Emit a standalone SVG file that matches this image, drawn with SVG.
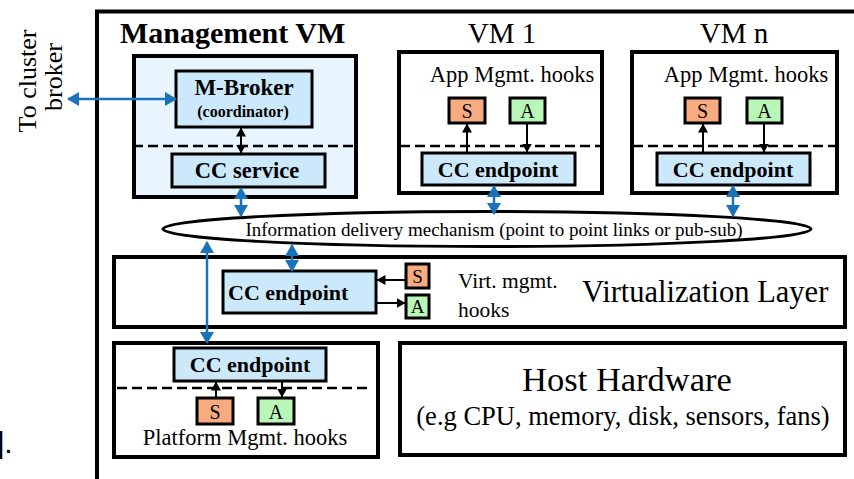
<svg xmlns="http://www.w3.org/2000/svg" width="854" height="479" viewBox="0 0 854 479">
<style>
.serif{font-family:"Liberation Serif","Times New Roman",serif;fill:#000}
.b{font-weight:bold}
.box{stroke:#000;stroke-width:4;fill:#fff}
.inner{stroke:#000;stroke-width:3;fill:#cce9fb}
.dash{stroke:#000;stroke-width:2.5;stroke-dasharray:10 5;fill:none}
.blue{stroke:#1a72b8;stroke-width:2.5;fill:none;marker-start:url(#bh);marker-end:url(#bh)}
.blk{stroke:#000;stroke-width:2;fill:none;marker-end:url(#kh)}
.blk2{stroke:#000;stroke-width:2;fill:none;marker-start:url(#kh);marker-end:url(#kh)}
.S{fill:#f9ab80;stroke:#000;stroke-width:3}
.A{fill:#b9f7b9;stroke:#000;stroke-width:3}
</style>
<defs>
<marker id="bh" viewBox="0 0 12 14" refX="11" refY="7" markerWidth="12" markerHeight="14" markerUnits="userSpaceOnUse" orient="auto-start-reverse"><path d="M0,0 L12,7 L0,14 Z" fill="#1a72b8"/></marker>
<marker id="kh" viewBox="0 0 9 10" refX="8.5" refY="5" markerWidth="9" markerHeight="10" markerUnits="userSpaceOnUse" orient="auto-start-reverse"><path d="M0,0 L9,5 L0,10 Z" fill="#000"/></marker>
</defs>
<rect width="854" height="479" fill="#fff"/>
<text class="" x="-4" y="453" font-family="Liberation Sans, Arial, sans-serif" font-size="30">].</text>
<g id="frame">
<path d="M97,479 L97,11.5 L860,11.5" stroke="#000" stroke-width="4" fill="none"/>
</g>
<g id="cluster-label">
<text class="serif" font-size="26" text-anchor="middle" transform="translate(36,81) rotate(-90)">To cluster</text>
<text class="serif" font-size="26" text-anchor="middle" transform="translate(62,77) rotate(-90)">broker</text>
</g>
<g id="mgmt-vm">
<text class="serif b" x="120" y="43" font-size="30">Management VM</text>
<rect x="134" y="56" width="222" height="141" fill="#e8f5fe" stroke="#000" stroke-width="4"/>
<line class="dash" x1="133" y1="146" x2="358" y2="146"/>
</g>
<g id="m-broker">
<rect class="inner" x="176" y="71" width="136" height="56"/>
<text class="serif b" x="244" y="95" font-size="23" text-anchor="middle">M-Broker</text>
<text class="serif b" x="243" y="117" font-size="16" text-anchor="middle">(coordinator)</text>
</g>
<g id="cc-service">
<rect class="inner" x="172" y="154" width="153" height="33"/>
<text class="serif b" x="247" y="178" font-size="22.5" text-anchor="middle">CC service</text>
</g>
<g id="vm1">
<text class="serif" x="502" y="43" font-size="29" text-anchor="middle">VM 1</text>
<rect class="box" x="399" y="52" width="203" height="141"/>
<text class="serif" x="512" y="82" font-size="22.5" text-anchor="middle">App Mgmt. hooks</text>
<line class="dash" x1="400" y1="146" x2="603" y2="146"/>
<rect class="S" x="449" y="98" width="36" height="25"/>
<text class="serif" x="467" y="118" font-size="20" text-anchor="middle">S</text>
<rect class="A" x="510" y="98" width="35" height="25"/>
<text class="serif" x="527.5" y="118" font-size="20" text-anchor="middle">A</text>
<rect class="inner" x="422" y="153" width="153" height="32"/>
<text class="serif b" x="498" y="177" font-size="22" text-anchor="middle">CC endpoint</text>
</g>
<g id="vmn">
<text class="serif" x="734" y="43" font-size="29" text-anchor="middle">VM n</text>
<rect class="box" x="632" y="52" width="205" height="141"/>
<text class="serif" x="746" y="82" font-size="22.5" text-anchor="middle">App Mgmt. hooks</text>
<line class="dash" x1="633" y1="146" x2="838" y2="146"/>
<rect class="S" x="685" y="98" width="35" height="25"/>
<text class="serif" x="702.5" y="118" font-size="20" text-anchor="middle">S</text>
<rect class="A" x="747" y="98" width="35" height="25"/>
<text class="serif" x="764.5" y="118" font-size="20" text-anchor="middle">A</text>
<rect class="inner" x="657" y="153" width="153" height="32"/>
<text class="serif b" x="733" y="177" font-size="22" text-anchor="middle">CC endpoint</text>
</g>
<g id="info-delivery">
<ellipse cx="487" cy="229" rx="324" ry="17.5" fill="#fff" stroke="#000" stroke-width="3"/>
<text class="serif" x="494" y="236" font-size="19" text-anchor="middle">Information delivery mechanism (point to point links or pub-sub)</text>
</g>
<g id="virt-layer">
<rect class="box" x="114" y="257" width="731" height="70"/>
<rect class="inner" x="223" y="271" width="153" height="42"/>
<text class="serif b" x="228" y="300" font-size="22">CC endpoint</text>
<rect class="S" x="406" y="264" width="23" height="24"/>
<text class="serif" x="417.5" y="283" font-size="19" text-anchor="middle">S</text>
<rect class="A" x="406" y="295" width="23" height="23"/>
<text class="serif" x="417.5" y="313" font-size="19" text-anchor="middle">A</text>
<text class="serif" x="458" y="288" font-size="21.5">Virt. mgmt.</text>
<text class="serif" x="458" y="317" font-size="21.5">hooks</text>
<text class="serif" x="582" y="302" font-size="30.5">Virtualization Layer</text>
</g>
<g id="platform">
<rect class="box" x="114" y="343" width="264" height="114"/>
<line class="dash" x1="117" y1="388" x2="371" y2="388"/>
<rect class="inner" x="174" y="348" width="152" height="33"/>
<text class="serif b" x="250" y="372" font-size="22" text-anchor="middle">CC endpoint</text>
<rect class="S" x="197" y="398" width="36" height="26"/>
<text class="serif" x="215" y="419" font-size="20" text-anchor="middle">S</text>
<rect class="A" x="258" y="398" width="36" height="26"/>
<text class="serif" x="276" y="419" font-size="20" text-anchor="middle">A</text>
<text class="serif" x="245" y="445" font-size="22.5" text-anchor="middle">Platform Mgmt. hooks</text>
</g>
<g id="host-hw">
<rect class="box" x="400" y="343" width="445" height="112"/>
<text class="serif" x="627" y="391" font-size="34.5" text-anchor="middle">Host Hardware</text>
<text class="serif" x="623" y="425" font-size="26.5" text-anchor="middle">(e.g CPU, memory, disk, sensors, fans)</text>
</g>
<g id="connectors">
<line class="blue" x1="68" y1="99" x2="176" y2="99"/>
<line class="blk2" x1="241" y1="128" x2="241" y2="153"/>
<line class="blue" x1="241" y1="188" x2="241" y2="216"/>
<line class="blue" x1="494" y1="186" x2="494" y2="214"/>
<line class="blue" x1="733" y1="186" x2="733" y2="216"/>
<line class="blue" x1="207" y1="242" x2="207" y2="343"/>
<line class="blue" x1="292" y1="245" x2="292" y2="271"/>
<line class="blk" x1="467" y1="153" x2="467" y2="124"/>
<line class="blk" x1="527" y1="123" x2="527" y2="152"/>
<line class="blk" x1="703" y1="153" x2="703" y2="124"/>
<line class="blk" x1="764" y1="123" x2="764" y2="152"/>
<line class="blk" x1="406" y1="280" x2="377" y2="280"/>
<line class="blk" x1="376" y1="303" x2="405" y2="303"/>
<line class="blk" x1="216" y1="398" x2="216" y2="382"/>
<line class="blk" x1="282" y1="381" x2="282" y2="397"/>
</g>
</svg>
